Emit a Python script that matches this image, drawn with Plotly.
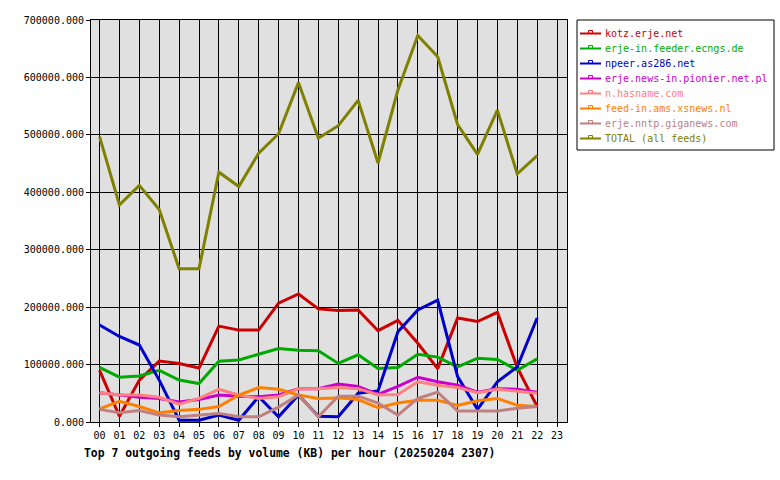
import plotly.graph_objects as go

hours = list(range(23))
hour_labels = ["%02d" % h for h in range(24)]

series_names = [
    "kotz.erje.net",
    "erje-in.feeder.ecngs.de",
    "npeer.as286.net",
    "erje.news-in.pionier.net.pl",
    "n.hasname.com",
    "feed-in.ams.xsnews.nl",
    "erje.nntp.giganews.com",
    "TOTAL (all feeds)",
]
series_colors = ["#CC0000", "#00AA00", "#0000CC", "#CC00CC", "#FF8080", "#FF8000", "#C08080", "#808000"]

kotz = [90000, 10000, 73000, 106000, 102000, 94000, 167000, 160000, 160000, 207000, 223000, 197000,
        194000, 195000, 159000, 177000, 137000, 93000, 181000, 175000, 191000, 95000, 27000]
ecngs = [95000, 78000, 80000, 90000, 73000, 67000, 106000, 108000, 118000, 128000, 125000, 124000,
         102000, 117000, 93000, 95000, 118000, 113000, 96000, 111000, 109000, 90000, 110000]
npeer = [169000, 149000, 134000, 73000, 3000, 3000, 12000, 3000, 44000, 9000, 47000, 10000,
         9000, 50000, 54000, 157000, 195000, 212000, 79000, 22000, 70000, 96000, 181000]
pionier = [51000, 47000, 43000, 41000, 35000, 39000, 47000, 45000, 44000, 47000, 58000, 58000,
           66000, 62000, 48000, 62000, 78000, 70000, 64000, 52000, 58000, 57000, 52000]
hasname = [51000, 47000, 47000, 43000, 31000, 41000, 57000, 47000, 41000, 44000, 58000, 58000,
           60000, 58000, 47000, 48000, 70000, 64000, 60000, 51000, 57000, 54000, 50000]
xsnews = [23000, 36000, 27000, 16000, 20000, 22000, 27000, 47000, 60000, 57000, 47000, 41000,
          42000, 39000, 25000, 33000, 38000, 38000, 29000, 37000, 41000, 29000, 27000]
giganews = [22000, 16000, 20000, 12000, 9000, 12000, 15000, 9000, 9000, 26000, 47000, 9000,
            45000, 45000, 33000, 12000, 41000, 52000, 19000, 19000, 19000, 24000, 27000]
total = [497000, 378000, 412000, 370000, 267000, 267000, 435000, 410000, 468000, 502000, 591000, 494000,
         516000, 560000, 451000, 578000, 673000, 636000, 518000, 466000, 543000, 432000, 464000]

all_series = [kotz, ecngs, npeer, pionier, hasname, xsnews, giganews, total]

y_ticks = [0, 100000, 200000, 300000, 400000, 500000, 600000, 700000]
y_tick_text = ["%.3f" % v for v in y_ticks]

title_text = "Top 7 outgoing feeds by volume (KB) per hour (20250204 2307)"

W, H = 780, 480
L, R, T, B = 91, 567, 20, 422
pw, ph = R - L, B - T

def px(x):
    return (x - L) / pw

def py(y):
    return (B - y) / ph

fig = go.Figure()
for i in range(len(all_series)):
    fig.add_trace(go.Scatter(
        x=hours, y=all_series[i], mode="lines", name=series_names[i],
        line=dict(color=series_colors[i], width=3), showlegend=False,
    ))

mono = "DejaVu Sans Mono"
shapes = []
annotations = []
# legend box
shapes.append(dict(type="rect", xref="paper", yref="paper", x0=px(577), x1=px(774), y0=py(20), y1=py(150),
                   line=dict(color="black", width=1), fillcolor="white", layer="above"))
for k, name in enumerate(series_names):
    yy = 33.5 + 15 * k
    c = series_colors[k]
    shapes.append(dict(type="line", xref="paper", yref="paper", x0=px(580), x1=px(601), y0=py(yy), y1=py(yy),
                       line=dict(color=c, width=2), layer="above"))
    shapes.append(dict(type="rect", xref="paper", yref="paper", x0=px(588.5), x1=px(592.5), y0=py(yy - 3), y1=py(yy),
                       line=dict(color=c, width=1), fillcolor="rgba(0,0,0,0)", layer="above"))
    annotations.append(dict(text=name, xref="paper", yref="paper", x=px(603), y=py(yy), xanchor="left",
                            yanchor="middle", showarrow=False, font=dict(family=mono, size=10, color=c)))

annotations.append(dict(text="<b>" + title_text + "</b>", xref="paper", yref="paper", x=px(82), y=py(452.5),
                        xanchor="left", yanchor="middle", showarrow=False,
                        font=dict(family=mono, size=11.4, color="black")))

fig.update_layout(
    width=W, height=H,
    margin=dict(l=L, r=W - R, t=T, b=H - B, pad=0),
    paper_bgcolor="white", plot_bgcolor="#E0E0E0",
    showlegend=False,
    shapes=shapes, annotations=annotations,
    font=dict(family=mono, size=10, color="black"),
    xaxis=dict(range=[-0.43, 23.5], tickmode="array", tickvals=list(range(24)), ticktext=hour_labels,
               showgrid=True, gridcolor="black", gridwidth=1, zeroline=False,
               showline=True, linecolor="black", linewidth=1, mirror=True,
               ticks="outside", ticklen=4, tickcolor="black", tickfont=dict(family=mono, size=10)),
    yaxis=dict(range=[0, 700000], tickmode="array", tickvals=y_ticks, ticktext=y_tick_text,
               showgrid=True, gridcolor="black", gridwidth=1, zeroline=False,
               showline=True, linecolor="black", linewidth=1, mirror=True,
               ticks="outside", ticklen=4, tickcolor="black", tickfont=dict(family=mono, size=10)),
)

fig.write_html("out.html")
